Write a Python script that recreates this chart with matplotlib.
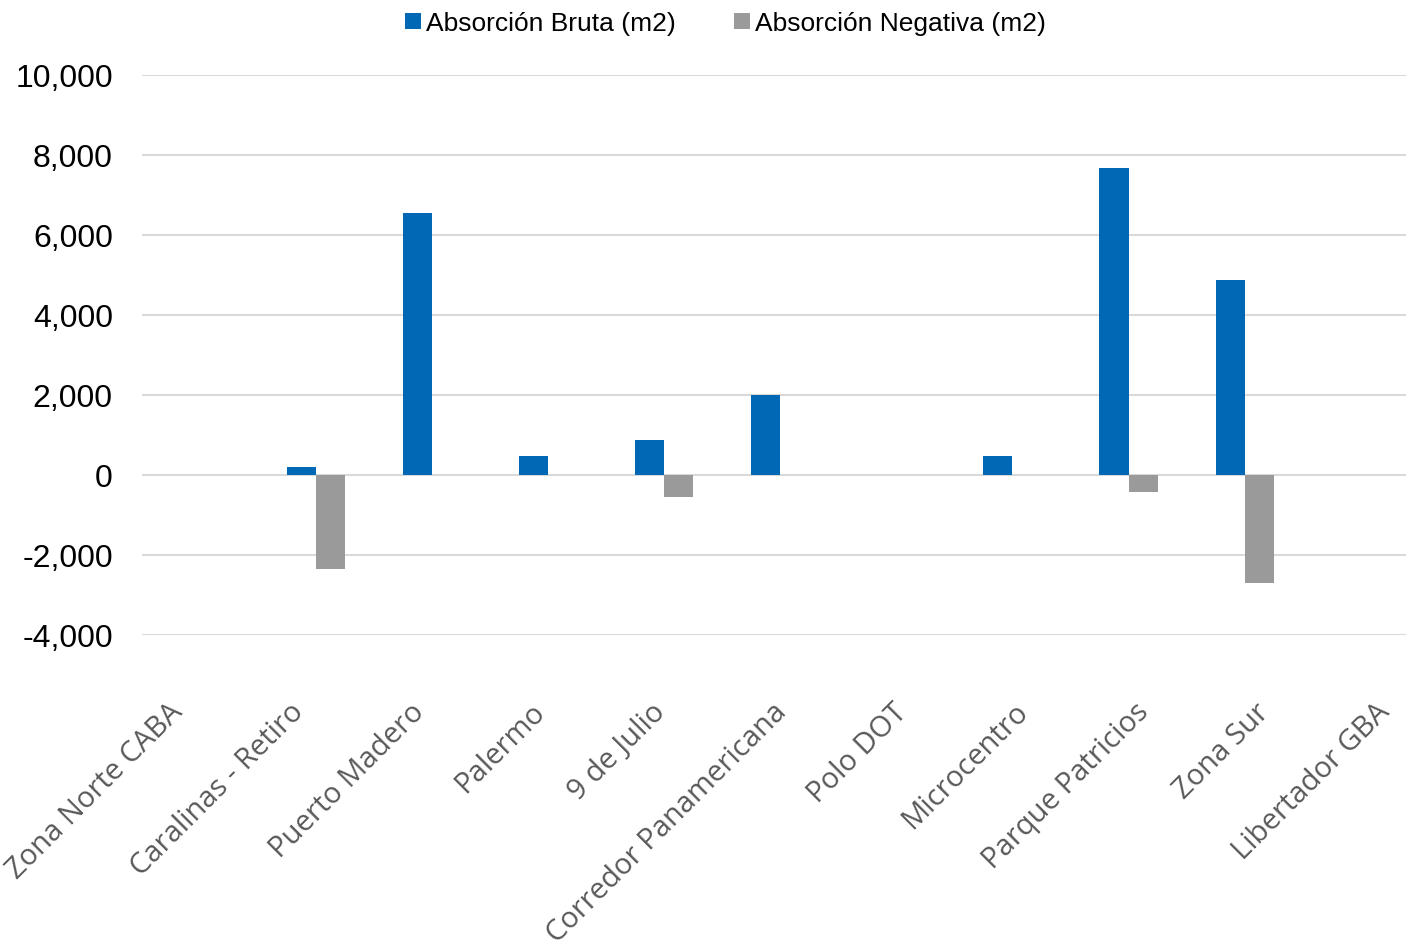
import matplotlib.pyplot as plt
import matplotlib.transforms as mtransforms
import numpy as np
from matplotlib.ticker import FuncFormatter

zonas = [
    "Zona Norte CABA", "Caralinas - Retiro", "Puerto Madero", "Palermo",
    "9 de Julio", "Corredor Panamericana", "Polo DOT", "Microcentro",
    "Parque Patricios", "Zona Sur", "Libertador GBA",
]
absorcion_bruta = [0, 200, 6550, 460, 860, 2000, 0, 480, 7675, 4875, 0]
absorcion_negativa = [0, -2350, 0, 0, -565, 0, 0, 0, -425, -2710, 0]
yticks = [-4000, -2000, 0, 2000, 4000, 6000, 8000, 10000]

fig = plt.figure(figsize=(14.06, 9.45), dpi=100)
# plot area runs slightly past the right edge of the canvas
ax = fig.add_axes([0.101, 0.327, 0.908, 0.593])

x = np.arange(len(zonas))
w = 0.25
ax.bar(x - w / 2, absorcion_bruta, width=w, color="#0068b5",
       label="Absorción Bruta (m2)", zorder=3)
ax.bar(x + w / 2, absorcion_negativa, width=w, color="#9a9a9a",
       label="Absorción Negativa (m2)", zorder=3)

ax.set_xlim(-0.5, len(zonas) - 0.5)
ax.set_ylim(-4000, 10000)
ax.set_yticks(yticks)
ax.yaxis.set_major_formatter(FuncFormatter(lambda v, _: f"{v:,.0f}"))
ax.grid(axis="y", color="#d9d9d9", linewidth=1.5, zorder=0)
for s in ax.spines.values():
    s.set_visible(False)
ax.tick_params(axis="both", length=0)
ax.tick_params(axis="y", labelsize=23, pad=21)
for lbl in ax.get_yticklabels():
    lbl.set_family("Liberation Sans")

ax.set_xticks(x)
ax.set_xticklabels(zonas, rotation=45, ha="right", rotation_mode="anchor",
                   fontsize=21, color="#595959", family="Open Sans")
ax.tick_params(axis="x", pad=0)
# slanted category names sit below the plot and drift right a little per slot
for i, lbl in enumerate(ax.get_xticklabels()):
    dx = (-32 + 4.7 * i) / 100
    shift = mtransforms.ScaledTranslation(dx, -62 / 100, fig.dpi_scale_trans)
    lbl.set_transform(lbl.get_transform() + shift)

fig.legend(*ax.get_legend_handles_labels(), loc="upper center",
           bbox_to_anchor=(0.516, 1.012), ncol=2, frameon=False,
           prop={"family": "Liberation Sans", "size": 19},
           handlelength=0.6, handleheight=0.6, handletextpad=0.2,
           columnspacing=2.2)

fig.savefig("out.png", dpi=100)
